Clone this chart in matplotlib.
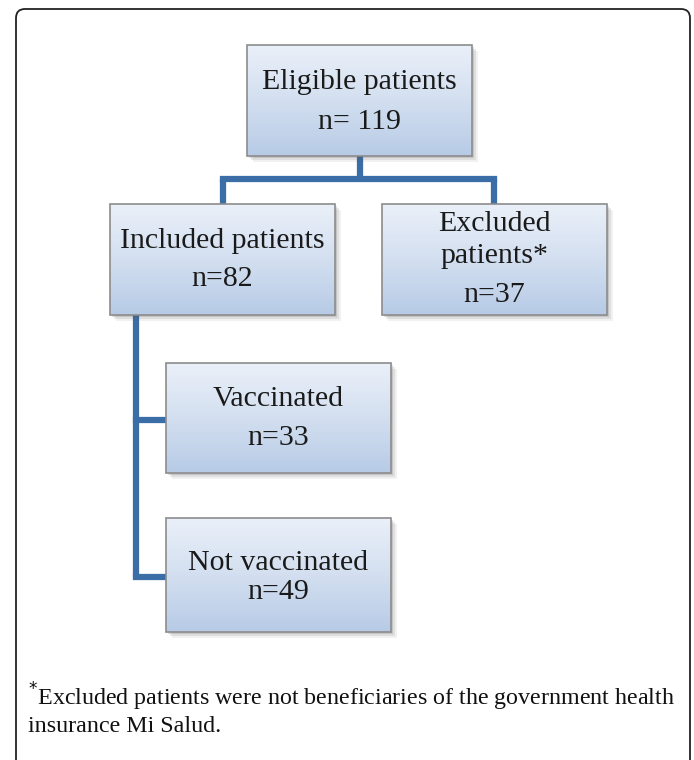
import numpy as np
import matplotlib.pyplot as plt
from matplotlib.patches import Rectangle, FancyBboxPatch
from matplotlib.colors import LinearSegmentedColormap

# Datos del diagrama de flujo
etiquetas = ["Eligible patients", "Included patients", "Excluded\npatients*",
             "Vaccinated", "Not vaccinated"]
conteos = [119, 82, 37, 33, 49]
prefijos = ["n= ", "n=", "n=", "n=", "n="]
nota = ("$^{*}$Excluded patients were not beneficiaries of the government health\n"
        "insurance Mi Salud.")

# Posiciones de las cajas en pixeles (x0, y0, ancho, alto)
cajas = [(247, 45, 225, 111), (110, 204, 225, 111), (382, 204, 225, 111),
         (166, 363, 225, 110), (166, 518, 225, 114)]
# posicion vertical de las lineas de texto
lineas_y = [(82, 122), (241, 279), (240, 295), (399, 438), (563, 592)]

fig = plt.figure(figsize=(6.94, 7.60), dpi=100)
ax = fig.add_axes([0, 0, 1, 1])
ax.set_xlim(0, 694)
ax.set_ylim(760, 0)
ax.axis("off")

# Marco exterior
marco = FancyBboxPatch((16, 9), 674, 800, boxstyle="round,pad=0,rounding_size=9",
                       fc="white", ec="#222222", lw=1.3)
ax.add_patch(marco)

azul = "#3b6da6"
lw = 4.5

# Conectores
ax.plot([360, 360], [156, 179], color=azul, lw=lw, solid_capstyle="butt")
ax.plot([223, 494], [179, 179], color=azul, lw=lw, solid_capstyle="projecting")
ax.plot([223, 223], [179, 204], color=azul, lw=lw, solid_capstyle="butt")
ax.plot([494, 494], [179, 204], color=azul, lw=lw, solid_capstyle="butt")
ax.plot([136, 136], [315, 577], color=azul, lw=lw, solid_capstyle="butt")
ax.plot([136, 166], [420, 420], color=azul, lw=lw, solid_capstyle="projecting")
ax.plot([136, 166], [577, 577], color=azul, lw=lw, solid_capstyle="projecting")

grad = np.linspace(0, 1, 256).reshape(-1, 1)
cmap = LinearSegmentedColormap.from_list("caja", ["#eaf0f9", "#d3dff0", "#b7cbe6"])

for i, (x0, y0, w, h) in enumerate(cajas):
    # sombra
    for k, a in zip([6, 4, 2], [0.08, 0.12, 0.18]):
        ax.add_patch(Rectangle((x0 + k, y0 + k), w, h, fc="#555555", ec="none",
                               alpha=a, zorder=2))
    ax.imshow(grad, cmap=cmap, extent=(x0, x0 + w, y0 + h, y0),
              aspect="auto", zorder=3)
    borde = Rectangle((x0, y0), w, h, fc="none", ec="#8c8c8c", lw=1.2, zorder=4)
    ax.add_patch(borde)
    cx = x0 + w / 2
    y1, y2 = lineas_y[i]
    ax.text(cx, y1, etiquetas[i], ha="center", va="center", fontsize=21.5,
            family="Liberation Serif", color="#1a1a1a", zorder=5, linespacing=1.3)
    ax.text(cx, y2, f"{prefijos[i]}{conteos[i]}", ha="center", va="center",
            fontsize=21.5, family="Liberation Serif", color="#1a1a1a", zorder=5)

ax.set_xlim(0, 694)
ax.set_ylim(760, 0)

ax.text(28, 709, nota, ha="left", va="center", fontsize=17.3,
        family="Liberation Serif", color="#111111", linespacing=1.15)

fig.savefig("out.png", dpi=100)
